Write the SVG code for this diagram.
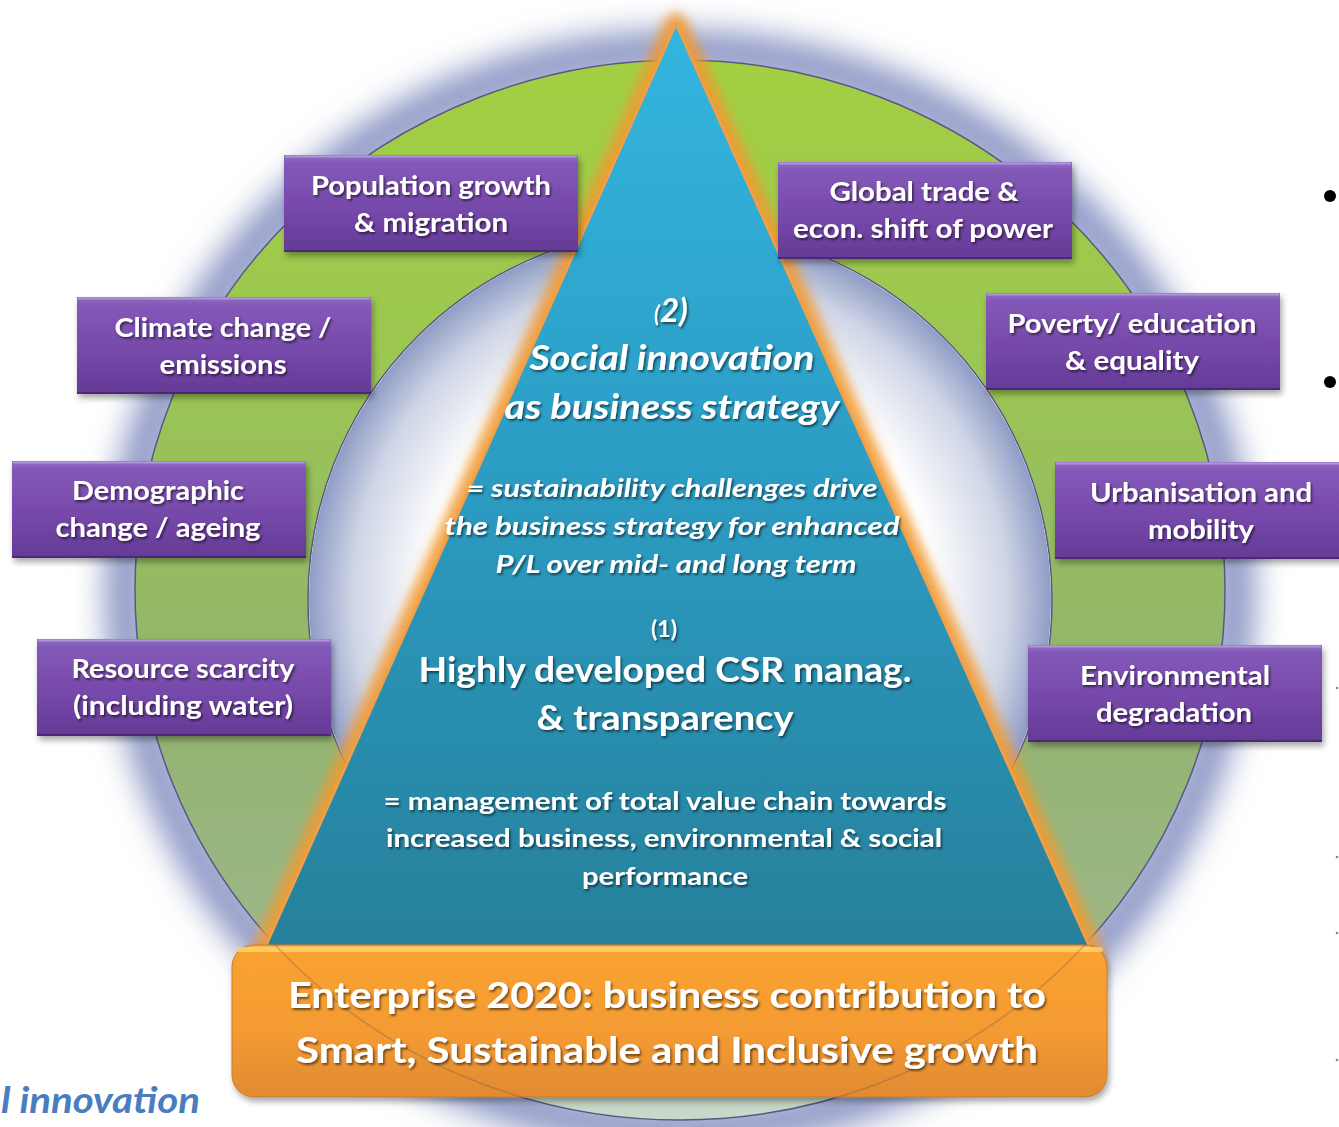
<svg xmlns="http://www.w3.org/2000/svg" width="1339" height="1127" viewBox="0 0 1339 1127">
<defs>
  <linearGradient id="gRing" x1="0" y1="60" x2="0" y2="1120" gradientUnits="userSpaceOnUse">
    <stop offset="0" stop-color="#a2cf42"/>
    <stop offset="0.3" stop-color="#9ac653"/>
    <stop offset="0.6" stop-color="#92b36e"/>
    <stop offset="0.85" stop-color="#9db88c"/>
    <stop offset="1" stop-color="#cad9cc"/>
  </linearGradient>
  <radialGradient id="gHole" cx="680" cy="600" r="372" gradientUnits="userSpaceOnUse">
    <stop offset="0" stop-color="#ffffff"/>
    <stop offset="0.68" stop-color="#ffffff"/>
    <stop offset="0.88" stop-color="#cfd5e6"/>
    <stop offset="1" stop-color="#8e9bc4"/>
  </radialGradient>
  <linearGradient id="gTri" x1="0" y1="24" x2="0" y2="950" gradientUnits="userSpaceOnUse">
    <stop offset="0" stop-color="#33b6de"/>
    <stop offset="0.45" stop-color="#2c9ec6"/>
    <stop offset="1" stop-color="#26809b"/>
  </linearGradient>
  <linearGradient id="gPurple" x1="0" y1="0" x2="0" y2="1">
    <stop offset="0" stop-color="#9270c4"/>
    <stop offset="0.08" stop-color="#8359b8"/>
    <stop offset="0.6" stop-color="#7447a8"/>
    <stop offset="1" stop-color="#643a95"/>
  </linearGradient>
  <linearGradient id="gOrange" x1="0" y1="0" x2="0" y2="1">
    <stop offset="0" stop-color="#fbb448"/>
    <stop offset="0.06" stop-color="#f9a232"/>
    <stop offset="0.6" stop-color="#f39a30"/>
    <stop offset="1" stop-color="#e08a30"/>
  </linearGradient>
  <filter id="blur14" x="-20%" y="-20%" width="140%" height="140%">
    <feGaussianBlur stdDeviation="16"/>
  </filter>
  <filter id="blur6" x="-20%" y="-20%" width="140%" height="140%">
    <feGaussianBlur stdDeviation="6"/>
  </filter>
  <filter id="boxShadow" x="-10%" y="-20%" width="125%" height="150%">
    <feDropShadow dx="2" dy="4" stdDeviation="3" flood-color="#000" flood-opacity="0.35"/>
  </filter>
  <filter id="ts" x="-5%" y="-30%" width="110%" height="160%">
    <feDropShadow dx="1.5" dy="2" stdDeviation="1.2" flood-color="#000" flood-opacity="0.55"/>
  </filter>
  <clipPath id="clipOrange">
    <rect x="232" y="945" width="875" height="152" rx="22"/>
  </clipPath>
  <style>
    .pbox { fill: url(#gPurple); filter: url(#boxShadow); }
    .phi { fill: none; stroke: #b8a0e0; stroke-width: 2; opacity: 0.8; }
    .plo { fill: none; stroke: #3e2266; stroke-width: 2; opacity: 0.7; }
    .pt { font-family: Lato, "Open Sans", "Liberation Sans", sans-serif; font-weight: 700; font-size: 26px; fill: #ffffff; text-anchor: middle; }
    .tri-i { font-family: Lato, "Open Sans", "Liberation Sans", sans-serif; font-weight: 700; font-style: italic; fill: #ffffff; text-anchor: middle; }
    .tri-n { font-family: Lato, "Open Sans", "Liberation Sans", sans-serif; font-weight: 700; fill: #ffffff; text-anchor: middle; }
    .ot { font-family: Lato, "Open Sans", "Liberation Sans", sans-serif; font-weight: 700; font-size: 37px; fill: #ffffff; text-anchor: middle; }
  </style>
</defs>

<rect x="0" y="0" width="1339" height="1127" fill="#ffffff"/>

<!-- ring halo -->
<ellipse cx="680" cy="590" rx="554" ry="539" fill="none" stroke="#8793c2" stroke-width="40" filter="url(#blur14)"/>

<!-- ring -->
<g id="ring">
  <path d="M135,590 A545,530 0 1,0 1225,590 A545,530 0 1,0 135,590 Z M308,600 A372,372 0 1,1 1052,600 A372,372 0 1,1 308,600 Z" fill="url(#gRing)" fill-rule="evenodd" stroke="#5b5685" stroke-width="1.5"/>
  <circle cx="680" cy="600" r="371" fill="url(#gHole)"/>
</g>

<!-- pyramid -->
<g id="pyramid">
  <polygon points="676,24 262,955 1093,955" fill="none" stroke="#f29a30" stroke-width="22" stroke-linejoin="round" filter="url(#blur6)" opacity="0.9"/>
  <polygon points="676,24 262,955 1093,955" fill="url(#gTri)" stroke="#f0a048" stroke-width="2.5" stroke-linejoin="round"/>
  <g filter="url(#ts)">
    <text class="tri-i" x="671" y="322" font-size="33"><tspan font-size="22">(</tspan>2)</text>
    <text class="tri-i" x="672" y="370" font-size="35" textLength="285" lengthAdjust="spacingAndGlyphs">Social innovation</text>
    <text class="tri-i" x="672" y="419" font-size="35" textLength="335" lengthAdjust="spacingAndGlyphs">as business strategy</text>
    <text class="tri-i" x="672" y="497" font-size="25" textLength="411" lengthAdjust="spacingAndGlyphs">= sustainability  challenges  drive</text>
    <text class="tri-i" x="672" y="535" font-size="25" textLength="455" lengthAdjust="spacingAndGlyphs">the  business  strategy  for enhanced</text>
    <text class="tri-i" x="676" y="573" font-size="25" textLength="361" lengthAdjust="spacingAndGlyphs">P/L over mid- and long term</text>
    <text class="tri-n" x="664" y="637" font-size="23">(1)</text>
    <text class="tri-n" x="665" y="682" font-size="34" textLength="493" lengthAdjust="spacingAndGlyphs">Highly developed CSR manag.</text>
    <text class="tri-n" x="665" y="730" font-size="34" textLength="257" lengthAdjust="spacingAndGlyphs">&amp; transparency</text>
    <text class="tri-n" x="665" y="810" font-size="25" textLength="563" lengthAdjust="spacingAndGlyphs">= management of total value chain towards</text>
    <text class="tri-n" x="664" y="847" font-size="25" textLength="556" lengthAdjust="spacingAndGlyphs">increased business, environmental &amp; social</text>
    <text class="tri-n" x="665" y="885" font-size="25" textLength="166" lengthAdjust="spacingAndGlyphs">performance</text>
  </g>
</g>

<!-- purple factor boxes -->
<g id="population">
  <rect class="pbox" x="284" y="155" width="294" height="97"/>
  <line class="phi" x1="285" y1="156.5" x2="577" y2="156.5"/>
  <line class="plo" x1="284" y1="251" x2="578" y2="251"/>
  <g filter="url(#ts)">
    <text class="pt" x="431" y="195" textLength="240" lengthAdjust="spacingAndGlyphs">Population growth</text>
    <text class="pt" x="431" y="232" textLength="154" lengthAdjust="spacingAndGlyphs">&amp; migration</text>
  </g>
</g>
<g id="climate">
  <rect class="pbox" x="77" y="297" width="294" height="97"/>
  <line class="phi" x1="78" y1="298.5" x2="370" y2="298.5"/>
  <line class="plo" x1="77" y1="393" x2="371" y2="393"/>
  <g filter="url(#ts)">
    <text class="pt" x="223" y="337" textLength="217" lengthAdjust="spacingAndGlyphs">Climate change /</text>
    <text class="pt" x="223" y="374" textLength="127" lengthAdjust="spacingAndGlyphs">emissions</text>
  </g>
</g>
<g id="demographic">
  <rect class="pbox" x="12" y="461" width="294" height="97"/>
  <line class="phi" x1="13" y1="462.5" x2="305" y2="462.5"/>
  <line class="plo" x1="12" y1="557" x2="306" y2="557"/>
  <g filter="url(#ts)">
    <text class="pt" x="158" y="500" textLength="172" lengthAdjust="spacingAndGlyphs">Demographic</text>
    <text class="pt" x="158" y="537" textLength="205" lengthAdjust="spacingAndGlyphs">change / ageing</text>
  </g>
</g>
<g id="resource">
  <rect class="pbox" x="37" y="639" width="294" height="97"/>
  <line class="phi" x1="38" y1="640.5" x2="330" y2="640.5"/>
  <line class="plo" x1="37" y1="735" x2="331" y2="735"/>
  <g filter="url(#ts)">
    <text class="pt" x="183" y="678" textLength="223" lengthAdjust="spacingAndGlyphs">Resource scarcity</text>
    <text class="pt" x="183" y="715" textLength="220" lengthAdjust="spacingAndGlyphs">(including water)</text>
  </g>
</g>
<g id="global-trade">
  <rect class="pbox" x="778" y="162" width="294" height="97"/>
  <line class="phi" x1="779" y1="163.5" x2="1071" y2="163.5"/>
  <line class="plo" x1="778" y1="258" x2="1072" y2="258"/>
  <g filter="url(#ts)">
    <text class="pt" x="924" y="201" textLength="189" lengthAdjust="spacingAndGlyphs">Global trade &amp;</text>
    <text class="pt" x="923" y="238" textLength="260" lengthAdjust="spacingAndGlyphs">econ. shift of power</text>
  </g>
</g>
<g id="poverty">
  <rect class="pbox" x="986" y="293" width="294" height="97"/>
  <line class="phi" x1="987" y1="294.5" x2="1279" y2="294.5"/>
  <line class="plo" x1="986" y1="389" x2="1280" y2="389"/>
  <g filter="url(#ts)">
    <text class="pt" x="1132" y="333" textLength="249" lengthAdjust="spacingAndGlyphs">Poverty/ education</text>
    <text class="pt" x="1132" y="370" textLength="134" lengthAdjust="spacingAndGlyphs">&amp; equality</text>
  </g>
</g>
<g id="urbanisation">
  <rect class="pbox" x="1055" y="462" width="294" height="97"/>
  <line class="phi" x1="1056" y1="463.5" x2="1348" y2="463.5"/>
  <line class="plo" x1="1055" y1="558" x2="1349" y2="558"/>
  <g filter="url(#ts)">
    <text class="pt" x="1201" y="502" textLength="222" lengthAdjust="spacingAndGlyphs">Urbanisation and</text>
    <text class="pt" x="1201" y="539" textLength="106" lengthAdjust="spacingAndGlyphs">mobility</text>
  </g>
</g>
<g id="environmental">
  <rect class="pbox" x="1028" y="645" width="294" height="97"/>
  <line class="phi" x1="1029" y1="646.5" x2="1321" y2="646.5"/>
  <line class="plo" x1="1028" y1="741" x2="1322" y2="741"/>
  <g filter="url(#ts)">
    <text class="pt" x="1175" y="685" textLength="190" lengthAdjust="spacingAndGlyphs">Environmental</text>
    <text class="pt" x="1174" y="722" textLength="156" lengthAdjust="spacingAndGlyphs">degradation</text>
  </g>
</g>

<!-- base box -->
<g id="enterprise">
  <rect x="232" y="945" width="875" height="152" rx="22" fill="url(#gOrange)" stroke="#c97a22" stroke-width="1" filter="url(#boxShadow)"/>
  <rect x="236" y="947" width="867" height="5" rx="3" fill="#ffd36a" opacity="0.8"/>
  <g clip-path="url(#clipOrange)">
    <ellipse cx="680" cy="590" rx="545" ry="530" fill="none" stroke="#6a4a5a" stroke-width="1.5" opacity="0.3"/>
  </g>
  <g filter="url(#ts)">
    <text class="ot" x="667" y="1008" textLength="758" lengthAdjust="spacingAndGlyphs">Enterprise 2020: business contribution to</text>
    <text class="ot" x="667" y="1063" textLength="742" lengthAdjust="spacingAndGlyphs">Smart, Sustainable and Inclusive growth</text>
  </g>
</g>

<!-- fragments at the edges -->
<g id="edge-fragments">
  <text x="1" y="1113" font-family="Lato, 'Open Sans', 'Liberation Sans', sans-serif" font-weight="700" font-style="italic" font-size="37" fill="#4a7dc0" textLength="199" lengthAdjust="spacingAndGlyphs">l innovation</text>
  <circle cx="1330" cy="196" r="6" fill="#000000"/>
  <circle cx="1330" cy="382" r="6" fill="#000000"/>
  <circle cx="1337" cy="688" r="1.3" fill="#888888"/>
  <circle cx="1337" cy="857" r="1.3" fill="#888888"/>
  <circle cx="1337" cy="933" r="1.3" fill="#888888"/>
  <circle cx="1337" cy="1060" r="1.3" fill="#888888"/>
</g>
</svg>
